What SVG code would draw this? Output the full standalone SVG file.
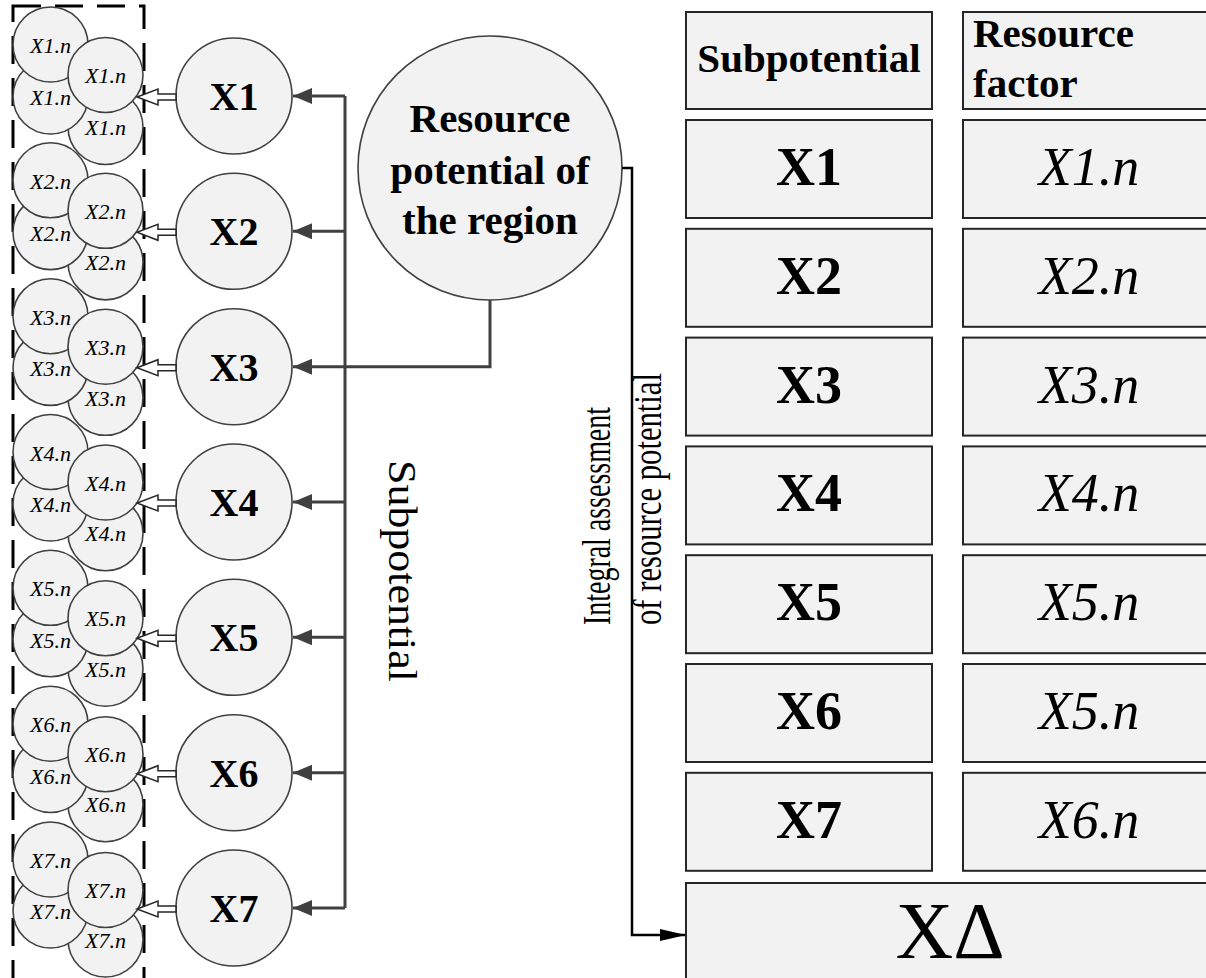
<svg xmlns="http://www.w3.org/2000/svg" width="1206" height="978" viewBox="0 0 1206 978">
<style>
.c{fill:#f2f2f2;stroke:#404040;stroke-width:1.6}
.b{fill:#f2f2f2;stroke:#262626;stroke-width:2}
.sl{font-family:"Liberation Serif",serif;font-style:italic;font-size:22px;text-anchor:middle;fill:#000}
.bl{font-family:"Liberation Serif",serif;font-weight:bold;font-size:40px;text-anchor:middle;fill:#000}
.hd{font-family:"Liberation Serif",serif;font-weight:bold;font-size:41px;fill:#000}
.tb{font-family:"Liberation Serif",serif;font-weight:bold;font-size:54px;text-anchor:middle;fill:#000}
.ti{font-family:"Liberation Serif",serif;font-style:italic;font-size:54px;text-anchor:middle;fill:#000}
.rt{font-family:"Liberation Serif",serif;font-size:40px;fill:#000}
.bus{fill:none;stroke:#404040;stroke-width:3}
.blk{fill:none;stroke:#000;stroke-width:2.5}
.ha{fill:#fff;stroke:#262626;stroke-width:1.5}
</style>
<defs>
<marker id="ag" markerUnits="userSpaceOnUse" markerWidth="20" markerHeight="16" refX="19" refY="8" orient="auto"><path d="M0,0 L19,8 L0,16 z" fill="#404040"/></marker>
<marker id="ab" markerUnits="userSpaceOnUse" markerWidth="27" markerHeight="12" refX="26" refY="6" orient="auto"><path d="M0,0 L26,6 L0,12 z" fill="#000"/></marker>
</defs>

<rect x="13" y="6" width="131" height="990" fill="none" stroke="#000" stroke-width="3" stroke-dasharray="28,14"/>

<g id="factors1">
<circle class="c" cx="105.5" cy="127" r="37.5"/><text class="sl" x="105.5" y="135">X1.n</text>
<circle class="c" cx="50.5" cy="96.5" r="37.5"/><text class="sl" x="50.5" y="105">X1.n</text>
<circle class="c" cx="50.5" cy="44.5" r="37.5"/><text class="sl" x="50.5" y="53">X1.n</text>
<circle class="c" cx="105.5" cy="75" r="37.5"/><text class="sl" x="105.5" y="83">X1.n</text>
</g>
<g id="factors2">
<circle class="c" cx="105.5" cy="262.4" r="37.5"/><text class="sl" x="105.5" y="270.4">X2.n</text>
<circle class="c" cx="50.5" cy="232.1" r="37.5"/><text class="sl" x="50.5" y="240.6">X2.n</text>
<circle class="c" cx="50.5" cy="180.3" r="37.5"/><text class="sl" x="50.5" y="188.8">X2.n</text>
<circle class="c" cx="105.5" cy="210.8" r="37.5"/><text class="sl" x="105.5" y="218.8">X2.n</text>
</g>
<g id="factors3">
<circle class="c" cx="105.5" cy="397.8" r="37.5"/><text class="sl" x="105.5" y="405.8">X3.n</text>
<circle class="c" cx="50.5" cy="367.9" r="37.5"/><text class="sl" x="50.5" y="376.4">X3.n</text>
<circle class="c" cx="50.5" cy="316.2" r="37.5"/><text class="sl" x="50.5" y="324.7">X3.n</text>
<circle class="c" cx="105.5" cy="346.7" r="37.5"/><text class="sl" x="105.5" y="354.7">X3.n</text>
</g>
<g id="factors4">
<circle class="c" cx="105.5" cy="533.3" r="37.5"/><text class="sl" x="105.5" y="541.3">X4.n</text>
<circle class="c" cx="50.5" cy="503.5" r="37.5"/><text class="sl" x="50.5" y="512">X4.n</text>
<circle class="c" cx="50.5" cy="452" r="37.5"/><text class="sl" x="50.5" y="460.5">X4.n</text>
<circle class="c" cx="105.5" cy="482.5" r="37.5"/><text class="sl" x="105.5" y="490.5">X4.n</text>
</g>
<g id="factors5">
<circle class="c" cx="105.5" cy="668.7" r="37.5"/><text class="sl" x="105.5" y="676.7">X5.n</text>
<circle class="c" cx="50.5" cy="639.3" r="37.5"/><text class="sl" x="50.5" y="647.8">X5.n</text>
<circle class="c" cx="50.5" cy="587.8" r="37.5"/><text class="sl" x="50.5" y="596.3">X5.n</text>
<circle class="c" cx="105.5" cy="618.3" r="37.5"/><text class="sl" x="105.5" y="626.3">X5.n</text>
</g>
<g id="factors6">
<circle class="c" cx="105.5" cy="804.2" r="37.5"/><text class="sl" x="105.5" y="812.2">X6.n</text>
<circle class="c" cx="50.5" cy="775" r="37.5"/><text class="sl" x="50.5" y="783.5">X6.n</text>
<circle class="c" cx="50.5" cy="723.7" r="37.5"/><text class="sl" x="50.5" y="732.2">X6.n</text>
<circle class="c" cx="105.5" cy="754.2" r="37.5"/><text class="sl" x="105.5" y="762.2">X6.n</text>
</g>
<g id="factors7">
<circle class="c" cx="105.5" cy="939.5" r="37.5"/><text class="sl" x="105.5" y="947.5">X7.n</text>
<circle class="c" cx="50.5" cy="910.5" r="37.5"/><text class="sl" x="50.5" y="919">X7.n</text>
<circle class="c" cx="50.5" cy="859.5" r="37.5"/><text class="sl" x="50.5" y="868">X7.n</text>
<circle class="c" cx="105.5" cy="890" r="37.5"/><text class="sl" x="105.5" y="898">X7.n</text>
</g>

<g id="sub1"><circle class="c" cx="234" cy="96" r="58"/><text class="bl" x="234" y="110">X1</text></g>
<g id="sub2"><circle class="c" cx="234" cy="231.3" r="58"/><text class="bl" x="234" y="245.3">X2</text></g>
<g id="sub3"><circle class="c" cx="234" cy="366.7" r="58"/><text class="bl" x="234" y="380.7">X3</text></g>
<g id="sub4"><circle class="c" cx="234" cy="502" r="58"/><text class="bl" x="234" y="516">X4</text></g>
<g id="sub5"><circle class="c" cx="234" cy="637.3" r="58"/><text class="bl" x="234" y="651.3">X5</text></g>
<g id="sub6"><circle class="c" cx="234" cy="772.7" r="58"/><text class="bl" x="234" y="786.7">X6</text></g>
<g id="sub7"><circle class="c" cx="234" cy="908" r="58"/><text class="bl" x="234" y="922">X7</text></g>

<g id="region">
<circle class="c" cx="490" cy="168" r="132"/>
<text class="bl" style="font-size:41px" x="490" y="132">Resource</text>
<text class="bl" style="font-size:41px" x="490" y="184">potential of</text>
<text class="bl" style="font-size:41px" x="490" y="234">the region</text>
</g>

<g id="connectors">
<path class="bus" d="M345,96 V908"/>
<path class="bus" d="M345,96 H293" marker-end="url(#ag)"/>
<path class="bus" d="M345,231.3 H293" marker-end="url(#ag)"/>
<path class="bus" d="M345,502 H293" marker-end="url(#ag)"/>
<path class="bus" d="M345,637.3 H293" marker-end="url(#ag)"/>
<path class="bus" d="M345,772.7 H293" marker-end="url(#ag)"/>
<path class="bus" d="M345,908 H293" marker-end="url(#ag)"/>
<path class="bus" d="M490,300 V366.7 H293" marker-end="url(#ag)"/>
<path class="blk" d="M622,168 H632 V935 H686" marker-end="url(#ab)"/>
<polygon class="ha" points="176,94 158,94 158,89 137,97 158,105 158,100 176,100"/>
<polygon class="ha" points="176,229.3 158,229.3 158,224.3 137,232.3 158,240.3 158,235.3 176,235.3"/>
<polygon class="ha" points="176,364.7 158,364.7 158,359.7 137,367.7 158,375.7 158,370.7 176,370.7"/>
<polygon class="ha" points="176,500 158,500 158,495 137,503 158,511 158,506 176,506"/>
<polygon class="ha" points="176,635.3 158,635.3 158,630.3 137,638.3 158,646.3 158,641.3 176,641.3"/>
<polygon class="ha" points="176,770.7 158,770.7 158,765.7 137,773.7 158,781.7 158,776.7 176,776.7"/>
<polygon class="ha" points="176,906 158,906 158,901 137,909 158,917 158,912 176,912"/>
</g>

<text class="rt" transform="translate(389,571) rotate(90)" text-anchor="middle" textLength="222" lengthAdjust="spacingAndGlyphs">Subpotential</text>
<text class="rt" transform="translate(610,625) rotate(-90)" textLength="218" lengthAdjust="spacingAndGlyphs">Integral assessment</text>
<text class="rt" transform="translate(661,625) rotate(-90)" textLength="252" lengthAdjust="spacingAndGlyphs">of resource potential</text>

<g id="hdr-sub"><rect class="b" x="686" y="12" width="246" height="97"/><text class="hd" x="809" y="72" text-anchor="middle">Subpotential</text></g>
<g id="hdr-res"><rect class="b" x="963" y="12" width="252" height="97"/><text class="hd" x="973" y="47">Resource</text><text class="hd" x="973" y="97">factor</text></g>

<g id="row1"><rect class="b" x="686" y="120" width="246" height="98"/><text class="tb" x="809" y="185">X1</text><rect class="b" x="963" y="120" width="252" height="98"/><text class="ti" x="1089" y="185">X1.n</text></g>
<g id="row2"><rect class="b" x="686" y="228.8" width="246" height="98"/><text class="tb" x="809" y="293.8">X2</text><rect class="b" x="963" y="228.8" width="252" height="98"/><text class="ti" x="1089" y="293.8">X2.n</text></g>
<g id="row3"><rect class="b" x="686" y="337.6" width="246" height="98"/><text class="tb" x="809" y="402.6">X3</text><rect class="b" x="963" y="337.6" width="252" height="98"/><text class="ti" x="1089" y="402.6">X3.n</text></g>
<g id="row4"><rect class="b" x="686" y="446.4" width="246" height="98"/><text class="tb" x="809" y="511.4">X4</text><rect class="b" x="963" y="446.4" width="252" height="98"/><text class="ti" x="1089" y="511.4">X4.n</text></g>
<g id="row5"><rect class="b" x="686" y="555.2" width="246" height="98"/><text class="tb" x="809" y="620.2">X5</text><rect class="b" x="963" y="555.2" width="252" height="98"/><text class="ti" x="1089" y="620.2">X5.n</text></g>
<g id="row6"><rect class="b" x="686" y="664" width="246" height="98"/><text class="tb" x="809" y="729">X6</text><rect class="b" x="963" y="664" width="252" height="98"/><text class="ti" x="1089" y="729">X5.n</text></g>
<g id="row7"><rect class="b" x="686" y="772.8" width="246" height="98"/><text class="tb" x="809" y="837.8">X7</text><rect class="b" x="963" y="772.8" width="252" height="98"/><text class="ti" x="1089" y="837.8">X6.n</text></g>
<g id="total"><rect class="b" x="686" y="883" width="530" height="120"/><text x="950" y="958" text-anchor="middle" style="font-family:'Liberation Serif',serif;font-size:80px;fill:#000">XΔ</text></g>
</svg>
